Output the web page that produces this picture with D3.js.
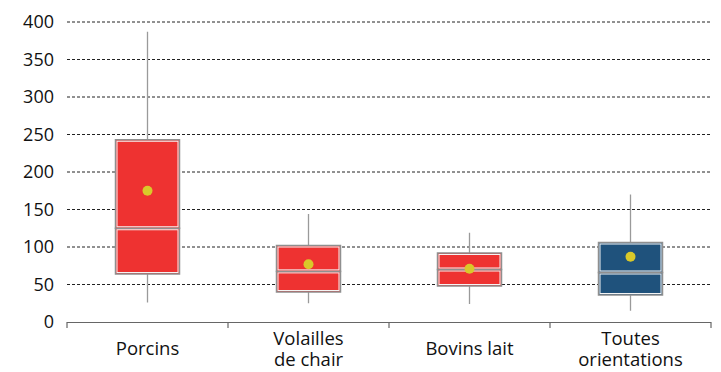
<!DOCTYPE html>
<html><head><meta charset="utf-8">
<script src="https://cdn.jsdelivr.net/npm/d3@7"></script>
<style>body{margin:0;background:#fff}svg{display:block}text{font-family:"Open Sans",sans-serif;fill:#111}</style>
</head><body><svg id="c" width="721" height="372"></svg>
<script>
const categories = [["Porcins"], ["Volailles", "de chair"], ["Bovins lait"], ["Toutes", "orientations"]];
const whiskerLow = [26, 25, 24, 15];
const q1 = [64, 40, 48, 36];
const median = [125, 67.5, 70, 66];
const q3 = [243, 102, 92, 106];
const whiskerHigh = [387, 144, 119, 170];
const mean = [175, 77, 71, 87];
const colors = ["#ee3231", "#ee3231", "#ee3231", "#1f527c"];
const yTicks = [0, 50, 100, 150, 200, 250, 300, 350, 400];

const svg = d3.select("#c");
const x = d3.scaleBand().domain(d3.range(categories.length)).range([67, 711]);
const y = d3.scaleLinear().domain([0, 400]).range([322, 22]);
const bw = 64;

// gridlines
svg.append("g").selectAll("line").data(yTicks.filter(d => d > 0)).join("line")
  .attr("x1", 67).attr("x2", 711).attr("y1", d => y(d)).attr("y2", d => y(d))
  .attr("stroke", "#222").attr("stroke-width", 1).attr("stroke-dasharray", "3,2");

// y labels
svg.append("g").selectAll("text").data(yTicks).join("text")
  .attr("x", 54).attr("y", d => y(d)).attr("dy", "0.36em").attr("text-anchor", "end")
  .attr("font-size", 18).text(d => d);

// x axis
svg.append("line").attr("x1", 67).attr("x2", 711).attr("y1", 322.5).attr("y2", 322.5)
  .attr("stroke", "#666").attr("stroke-width", 1.2);
const bounds = d3.range(categories.length + 1).map(i => i < categories.length ? x(i) : x.range()[1]);
svg.append("g").selectAll("line").data(bounds).join("line")
  .attr("x1", d => d).attr("x2", d => d).attr("y1", 322).attr("y2", 328)
  .attr("stroke", "#666").attr("stroke-width", 1.2);

const g = svg.append("g").selectAll("g").data(categories.map((c, i) => i)).join("g")
  .attr("transform", i => `translate(${x(i) + x.bandwidth() / 2},0)`);

// whiskers
g.append("line").attr("x1", 0).attr("x2", 0).attr("y1", i => y(whiskerHigh[i])).attr("y2", i => y(whiskerLow[i]))
  .attr("stroke", "#9a9a9a").attr("stroke-width", 1.3);

// boxes (upper and lower halves)
function half(lo, hi) {
  g.append("rect").attr("x", -bw / 2).attr("width", bw)
    .attr("y", i => y(hi[i])).attr("height", i => y(lo[i]) - y(hi[i]))
    .attr("fill", i => colors[i]).attr("stroke", "#8f8f8f").attr("stroke-width", 1.5);
  g.append("rect").attr("x", -bw / 2 + 1.5).attr("width", bw - 3)
    .attr("y", i => y(hi[i]) + 1.5).attr("height", i => y(lo[i]) - y(hi[i]) - 3)
    .attr("fill", "none").attr("stroke", "#f4f4f4").attr("stroke-width", 1);
}
half(q1, median);
half(median, q3);

// mean
g.append("circle").attr("cx", 0).attr("cy", i => y(mean[i])).attr("r", 5)
  .attr("fill", "#d9c92a");

// category labels
g.each(function(i) {
  const lines = categories[i];
  const y0 = lines.length === 1 ? 355 : 345;
  lines.forEach((l, k) => d3.select(this).append("text").attr("text-anchor", "middle")
    .attr("font-size", 18.5).attr("x", 0).attr("y", y0 + k * 21).text(l));
});
</script></body></html>
